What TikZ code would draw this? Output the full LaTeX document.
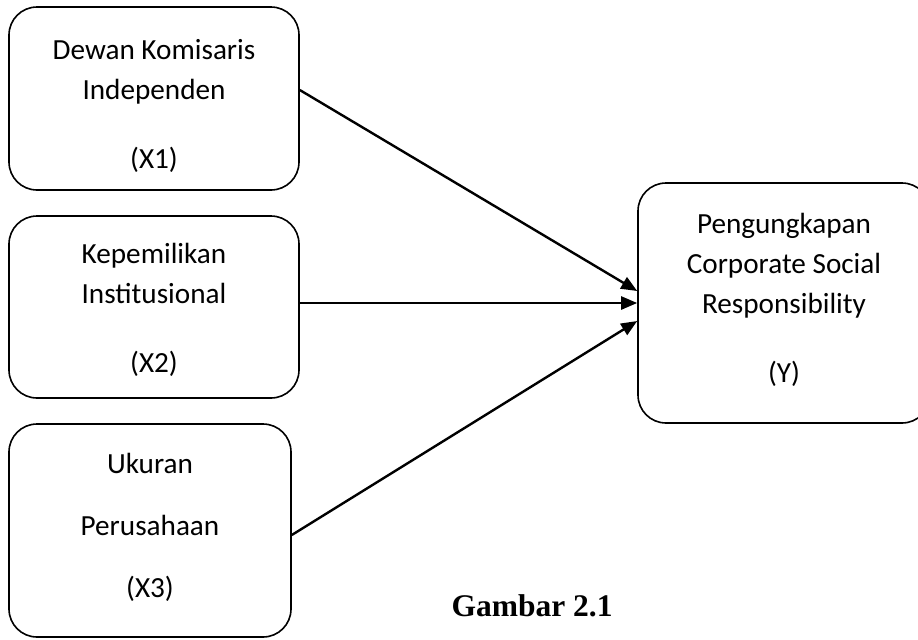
\documentclass[tikz,border=0pt]{standalone}
\usepackage{fontspec}
\usepackage{tikz}
\usetikzlibrary{arrows.meta, positioning}
\newfontfamily\carlito{Carlito}
\newfontfamily\lserif{Liberation Serif}
\tikzset{
  % Variable box
  VB/.style 2 args={rectangle,rounded corners=14pt,draw=black,
             line width=0.8pt,minimum width=#1,minimum height=#2,
             inner sep=0pt},
  % Text inside a box (anchored on its last line)
  VT/.style={font=\carlito\fontsize{14.6}{20}\selectfont,align=center,
             anchor=base,inner sep=0pt},
  % Arrows
  Arr/.style={-{Triangle[length=8pt,width=6.5pt]},line width=1.2pt},
}
\begin{document}
\begin{tikzpicture}[x=0.5pt,y=-0.5pt]
      \useasboundingbox (0,0) rectangle (918,639);
      % Independent variables
      \node[VB={145pt}{91.5pt}] at (154,98.5) (b1) {};
      \node[VT] at (154,168) (t1)
            {Dewan Komisaris\\Independen\\[14.5pt](X1)};
      \node[VB={145pt}{91pt}] at (154,307) (b2) {};
      \node[VT] at (154,372) (t2)
            {Kepemilikan\\Institusional\\[14.5pt](X2)};
      \node[VB={141pt}{106.5pt}] at (150,530.5) (b3) {};
      \node[VT] at (150,597) (t3)
            {Ukuran\\[11pt]Perusahaan\\[11pt](X3)};
      % Dependent variable
      \node[VB={146pt}{120pt}] at (784,303) (by) {};
      \node[VT] at (784,382) (ty)
            {Pengungkapan\\Corporate Social\\Responsibility\\[14.5pt](Y)};
      % Arrows
      \draw[Arr] ([yshift=4.25pt]b1.east) -- ([yshift=6pt]by.west);
      \draw[Arr] ([yshift=2pt]b2.east) -- (by.west);
      \draw[Arr] ([yshift=-2.25pt]b3.east) -- ([yshift=-9pt]by.west);
      % Caption
      \node[font=\lserif\bfseries\fontsize{15.75}{18}\selectfont,
            anchor=base,inner sep=0pt] at (532,616) (cap) {Gambar 2.1};
    \end{tikzpicture}
\end{document}
